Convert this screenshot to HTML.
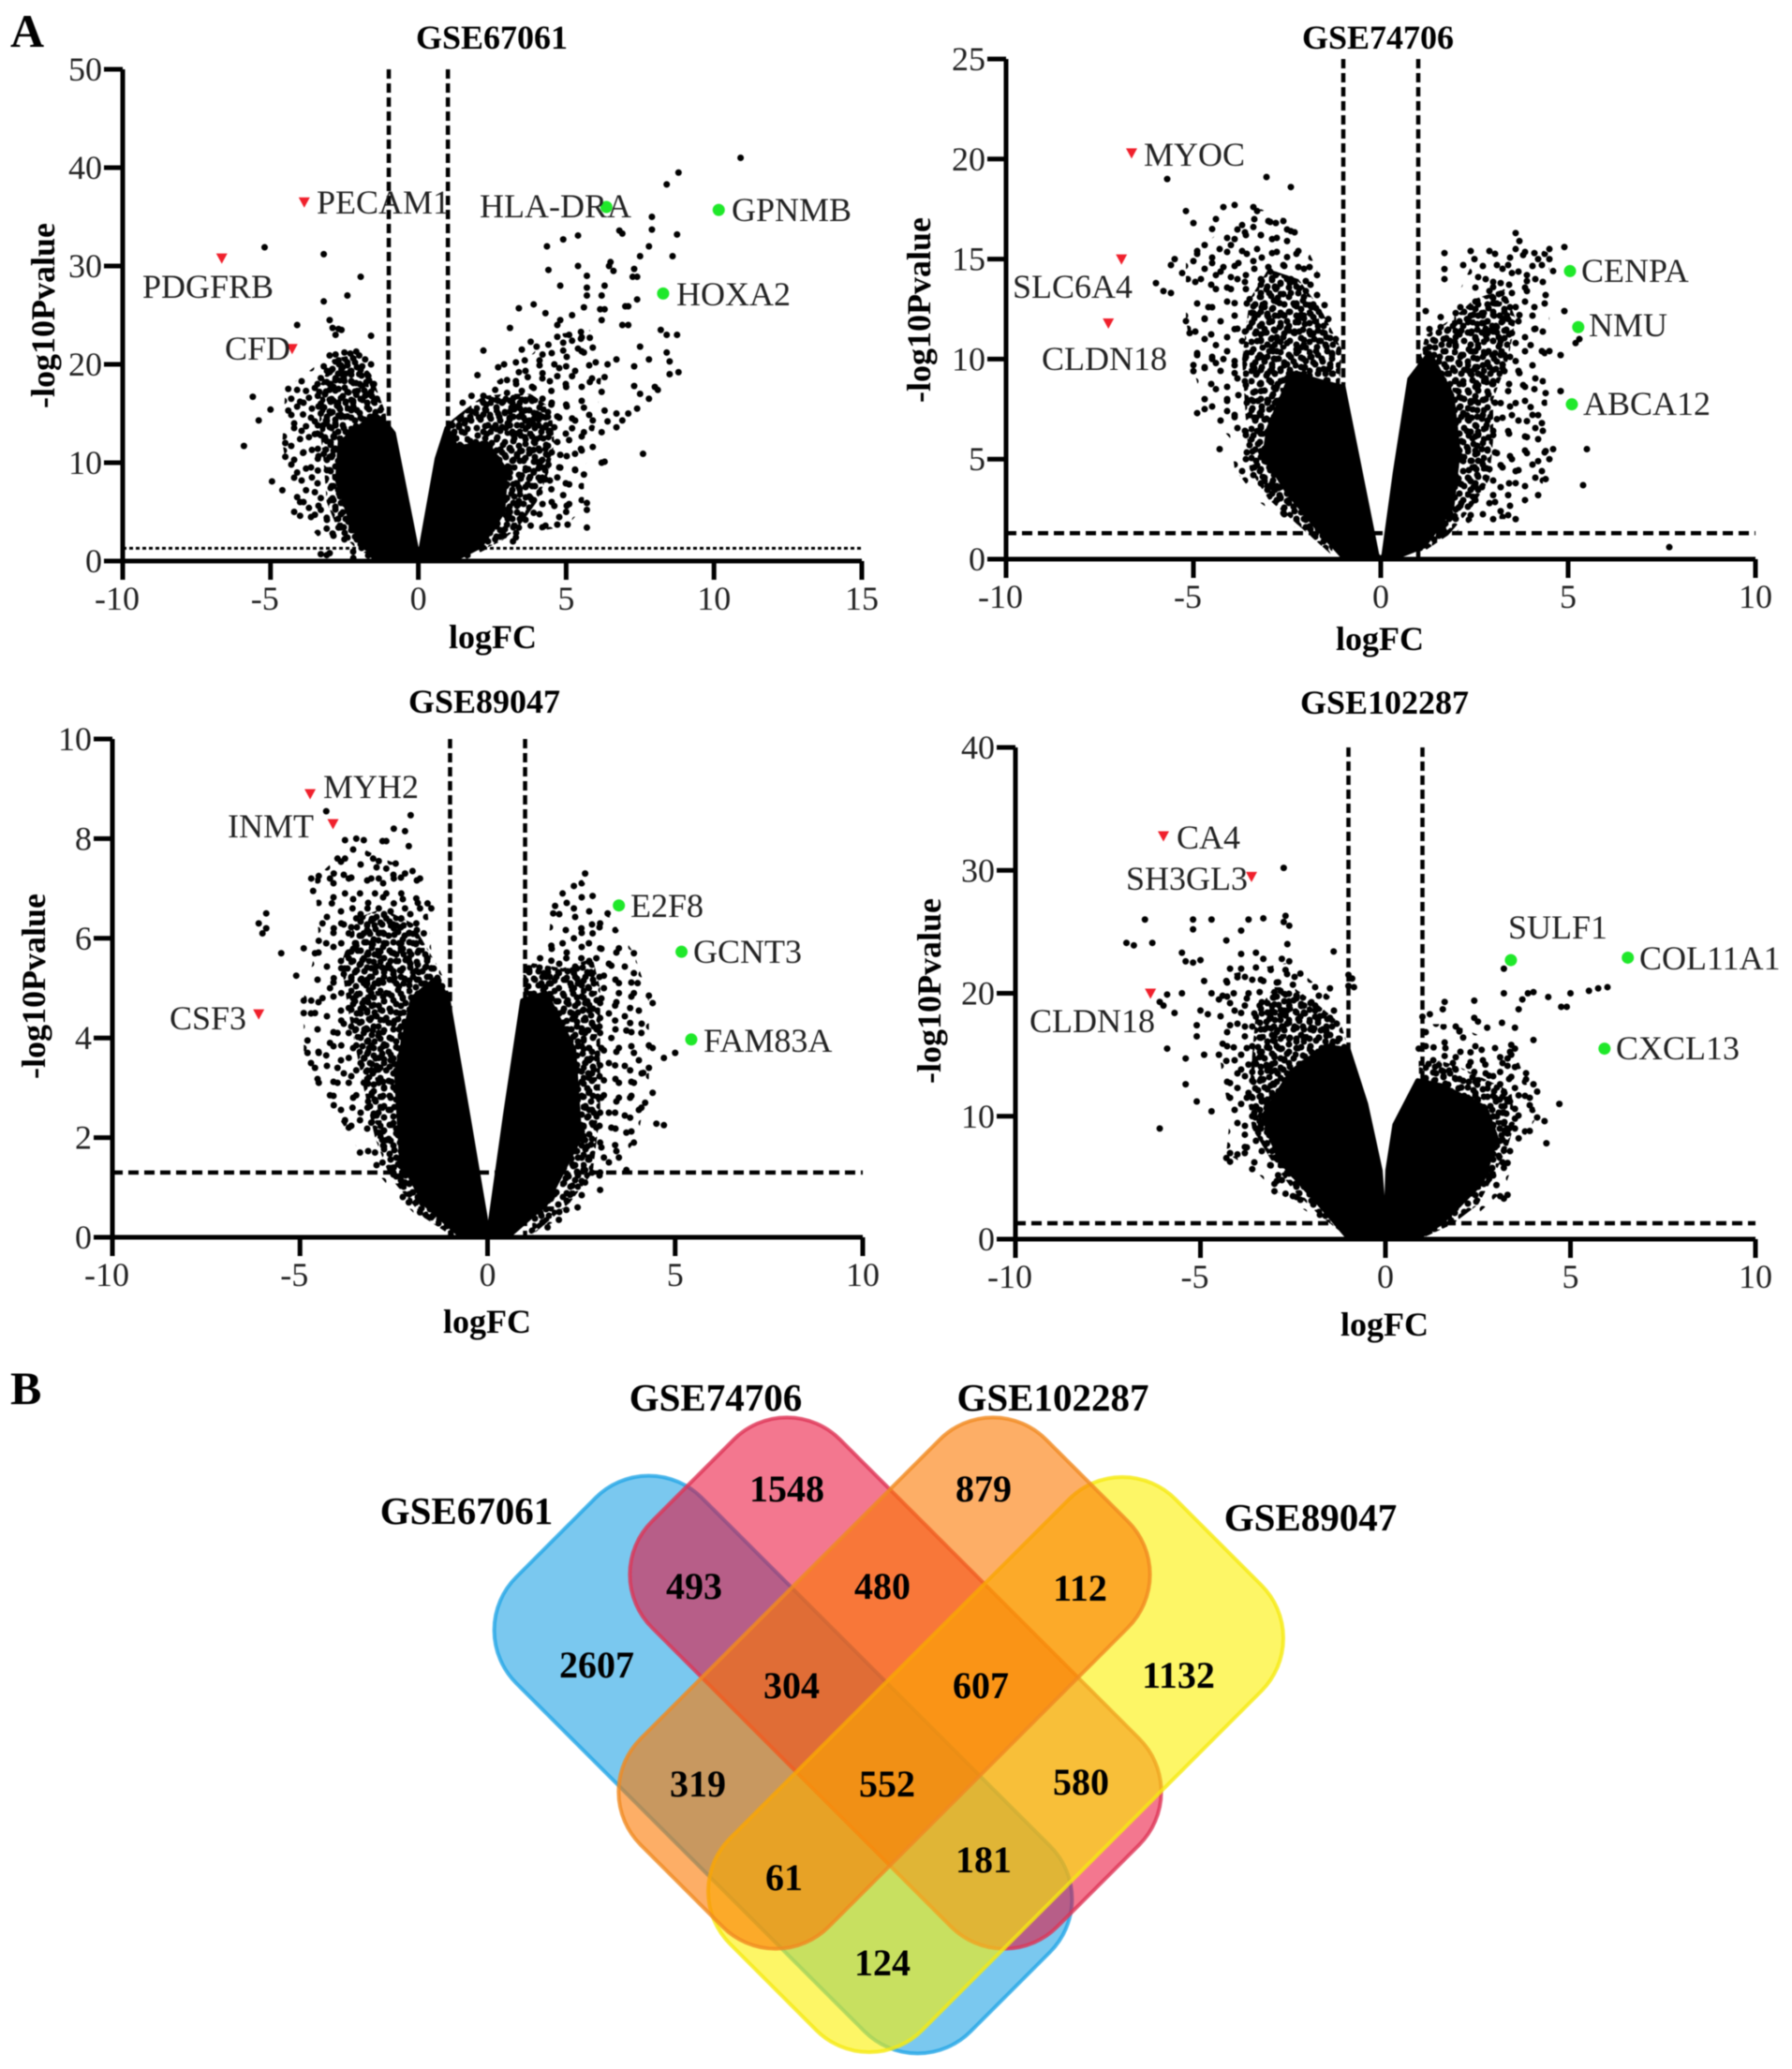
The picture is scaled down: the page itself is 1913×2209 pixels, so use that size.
<!DOCTYPE html>
<html><head><meta charset="utf-8"><title>Volcano plots and Venn diagram</title>
<style>
html,body{margin:0;padding:0;background:#fff}
svg{display:block;font-family:"Liberation Serif",serif;filter:blur(.6px)}
.t{font-weight:bold;font-size:36px;text-anchor:middle}
.g{font-size:36px;fill:#222}
.n{font-weight:bold;font-size:40px;text-anchor:middle;dominant-baseline:middle}
.v{font-weight:bold;font-size:41px;text-anchor:middle}
</style></head><body>
<svg id="fig" xmlns="http://www.w3.org/2000/svg" width="1913" height="2209" viewBox="0 0 1913 2209">
<defs>
<pattern id="stippleA" patternUnits="userSpaceOnUse" width="46" height="46">
<g fill="#000"><circle cx="4" cy="5" r="3.5"/><circle cx="14" cy="3" r="3.5"/><circle cx="25" cy="7" r="3.5"/><circle cx="36" cy="2" r="3.5"/><circle cx="42" cy="11" r="3.5"/><circle cx="9" cy="14" r="3.5"/><circle cx="19" cy="13" r="3.5"/><circle cx="31" cy="15" r="3.5"/><circle cx="40" cy="21" r="3.5"/><circle cx="3" cy="22" r="3.5"/><circle cx="13" cy="24" r="3.5"/><circle cx="24" cy="21" r="3.5"/><circle cx="33" cy="26" r="3.5"/><circle cx="42" cy="31" r="3.5"/><circle cx="7" cy="32" r="3.5"/><circle cx="18" cy="33" r="3.5"/><circle cx="27" cy="31" r="3.5"/><circle cx="36" cy="38" r="3.5"/><circle cx="12" cy="41" r="3.5"/><circle cx="23" cy="40" r="3.5"/><circle cx="30" cy="42" r="3.5"/></g>
</pattern>
<pattern id="stippleB" patternUnits="userSpaceOnUse" width="31" height="31">
<g fill="#000"><circle cx="3" cy="4" r="3.5"/><circle cx="12" cy="7" r="3.5"/><circle cx="22" cy="3" r="3.5"/><circle cx="27" cy="11" r="3.5"/><circle cx="7" cy="15" r="3.5"/><circle cx="17" cy="14" r="3.5"/><circle cx="25" cy="20" r="3.5"/><circle cx="3" cy="24" r="3.5"/><circle cx="13" cy="23" r="3.5"/><circle cx="20" cy="27" r="3.5"/><circle cx="28" cy="27" r="3.5"/></g>
</pattern>
<pattern id="stippleC" patternUnits="userSpaceOnUse" width="53" height="53">
<g fill="#000"><circle cx="6" cy="6" r="3.5"/><circle cx="22" cy="10" r="3.5"/><circle cx="38" cy="4" r="3.5"/><circle cx="14" cy="22" r="3.5"/><circle cx="31" cy="25" r="3.5"/><circle cx="46" cy="19" r="3.5"/><circle cx="4" cy="36" r="3.5"/><circle cx="21" cy="39" r="3.5"/><circle cx="38" cy="42" r="3.5"/><circle cx="49" cy="33" r="3.5"/></g>
</pattern>
</defs>
<rect width="1913" height="2209" fill="#fff"/>
<g id="plots"></g>
<text x="11" y="50" font-size="50" font-weight="bold">A</text>
<text x="11" y="1499" font-size="50" font-weight="bold">B</text>

<g>
<text class="g" x="338" y="228">PECAM1</text>
<text class="g" x="512" y="232">HLA-DRA</text>
<text class="g" x="781" y="236">GPNMB</text>
<text class="g" x="152" y="318">PDGFRB</text>
<text class="g" x="722" y="326">HOXA2</text>
<text class="g" x="240" y="384">CFD</text>
</g>
<g>
<text class="g" x="1221" y="177">MYOC</text>
<text class="g" x="1081" y="318">SLC6A4</text>
<text class="g" x="1112" y="395">CLDN18</text>
<text class="g" x="1688" y="301">CENPA</text>
<text class="g" x="1696" y="359">NMU</text>
<text class="g" x="1690" y="443">ABCA12</text>
</g>
<g>
<text class="g" x="345" y="852">MYH2</text>
<text class="g" x="243" y="894">INMT</text>
<text class="g" x="181" y="1099">CSF3</text>
<text class="g" x="673" y="979">E2F8</text>
<text class="g" x="740" y="1028">GCNT3</text>
<text class="g" x="751" y="1123">FAM83A</text>
</g>
<g>
<text class="g" x="1256" y="906">CA4</text>
<text class="g" x="1202" y="950">SH3GL3</text>
<text class="g" x="1099" y="1102">CLDN18</text>
<text class="g" x="1610" y="1002">SULF1</text>
<text class="g" x="1750" y="1035">COL11A1</text>
<text class="g" x="1725" y="1131">CXCL13</text>
</g>

<g>
<rect x="-343" y="-140" width="686" height="280" rx="80" transform="translate(836 1884) rotate(45)" fill="#0095e0" fill-opacity=".52" stroke="#22a5e6" stroke-opacity=".8" stroke-width="4"/>
<rect x="-306" y="-142" width="612" height="284" rx="80" transform="translate(956 1797) rotate(45)" fill="#ea0833" fill-opacity=".55" stroke="#dd3355" stroke-opacity=".8" stroke-width="4"/>
<rect x="-336" y="-145" width="672" height="290" rx="80" transform="translate(1063 1884) rotate(-45)" fill="#fcf000" fill-opacity=".6" stroke="#f5ea10" stroke-opacity=".8" stroke-width="4"/>
<rect x="-306" y="-142" width="612" height="284" rx="80" transform="translate(944 1797) rotate(-45)" fill="#fc7800" fill-opacity=".6" stroke="#f08a20" stroke-opacity=".8" stroke-width="4"/>
<text class="v" x="764" y="1506">GSE74706</text>
<text class="v" x="1124" y="1506">GSE102287</text>
<text class="v" x="498" y="1627">GSE67061</text>
<text class="v" x="1399" y="1634">GSE89047</text>
<text class="n" x="840" y="1594">1548</text>
<text class="n" x="1050" y="1594">879</text>
<text class="n" x="741" y="1698">493</text>
<text class="n" x="942" y="1698">480</text>
<text class="n" x="1153" y="1700">112</text>
<text class="n" x="637" y="1782">2607</text>
<text class="n" x="845" y="1804">304</text>
<text class="n" x="1047" y="1804">607</text>
<text class="n" x="1258" y="1793">1132</text>
<text class="n" x="745" y="1909">319</text>
<text class="n" x="947" y="1909">552</text>
<text class="n" x="1154" y="1907">580</text>
<text class="n" x="837" y="2009">61</text>
<text class="n" x="1050" y="1990">181</text>
<text class="n" x="942" y="2100">124</text>
</g>
</svg>
<script>
/* Values estimated by eye from the reference. Flat lists are logFC, -log10P pairs. */
const xTicksWide = [-10,-5,0,5,10,15];
const xTicksNarrow = [-10,-5,0,5,10];
const yTicks67061 = [0,10,20,30,40,50];
const yTicks74706 = [0,5,10,15,20,25];
const yTicks89047 = [0,2,4,6,8,10];
const yTicks102287 = [0,10,20,30,40];

/* Saturated core of each cloud: every point overlaps, drawn as a solid outline. */
const core67061Left = [0,0,-.08,1.5,-.84,13,-1.1,14,-1.48,14.9,-2,13.6,-2.65,12,-2.74,8.2,-2.2,3.4,-1.5,.3,-.7,0];
const core67061Right = [0,0,.1,1.5,.63,10.4,.96,13.5,1.3,11.5,2.3,12,2.96,9.2,2.86,5,2.1,1.5,1.25,.2];
const core74706Left = [0,0,-.1,.2,-.54,4.3,-1,8.6,-1.45,8.8,-2.37,9.3,-3,6.5,-3.1,5.2,-2.5,3.4,-1.76,1.7,-1,.1];
const core74706Right = [0,0,.08,.2,.38,4.3,.77,9,1.3,10.3,1.9,8.2,2.07,5.4,1.9,2.6,1.15,.65,.4,.1];
const core89047Left = [0,0,-.06,.4,-.52,2.44,-1.05,4.75,-1.36,5.2,-2,4.8,-2.43,3.3,-2.3,1.55,-1.67,.67,-.75,.05];
const core89047Right = [0,0,.09,.4,.47,2.44,.93,4.75,1.55,4.9,2.3,3.77,2.46,2,1.55,.67,.6,.05];
const core102287Left = [0,0,-.14,5.6,-.53,11,-1,15.4,-1.6,15.7,-2.55,13.6,-3.3,10,-2.85,6.4,-1.77,2.8,-1,.1];
const core102287Right = [0,0,.06,5.6,.25,9.3,.87,12.9,1.5,12.5,2.7,10.7,3,8.2,2.6,4.6,1.5,1.3,.87,.1];

/* Heavily overplotted zone around each core. */
const dense67061Left = [-1.1,15,-1.6,19,-2.2,21,-2.9,20.5,-3.3,18,-3.35,14,-3.2,10,-3.1,6,-2.7,3,-2,1,-.9,0];
const dense67061Right = [1,14,1.5,15.2,2.2,16.8,3,17,3.8,17,4.5,15.5,4.6,12,4.4,9,4,6,3.4,3.5,2.8,2,1.8,.7,.9,0];
const dense74706Left = [-1.05,10.5,-1.6,12.5,-2.2,14,-3,14.5,-3.5,13,-3.7,10,-3.6,7,-3.5,4.5,-3,3,-2.2,1.7,-1.3,.2];
const dense74706Right = [.95,9.5,1.2,11.2,1.9,12,2.5,13,3.3,13.5,3.6,12,3.4,10,3,8,3,6,2.9,4,2.4,2.5,1.8,1.2,1,.2];
const dense89047Left = [-1.05,5,-1.3,5.4,-2,6.3,-2.8,6.6,-3.5,6.4,-3.9,5.5,-3.7,4.5,-3.3,3,-3,2,-2.6,1.2,-1.7,.4,-.9,0];
const dense89047Right = [.95,5.3,1.2,5.5,2,5.4,2.8,5.6,3,5,3,3.8,3,2.5,2.8,1.3,2.2,.7,1.2,.05];
const dense102287Left = [-1,15.5,-1.2,17.5,-1.8,19,-2.5,20.5,-3,20.5,-3.5,18.5,-3.6,15,-3.7,11,-3.6,9,-3.1,6.5,-2.5,4,-1.8,2,-1,.1];
const dense102287Right = [.9,14.5,1.5,14.5,2,14,2.7,13,3.4,12,3.5,9.5,3.3,7.5,2.9,5,2.5,2.8,1.8,1.2,1,.1];

/* Thinner outer reach of each cloud. */
const sparse67061Left = [-1.5,8,-1.7,19,-2.5,21,-3.4,20,-4.5,17.5,-4.6,12,-4.3,7,-4,4.5,-3.4,2.5,-2.5,.8,-1.5,0];
const sparse67061Right = [1.5,0,2.5,18,3.5,20,4.5,23,5.8,23.5,6.2,19,6,14,5.6,9,5.6,5.5,5,3.5,3.5,2.8,2.5,1.5];
const sparse74706Left = [-1.5,5,-1.7,14.5,-2.3,16.8,-3.2,17.5,-4.2,16.5,-5.2,15,-5.2,12,-5,9.5,-4.7,7.5,-4,6,-3.9,4.5,-3.2,2.8,-2.3,1.6];
const sparse74706Right = [1.5,.7,2,13,2.5,15,3.6,16,4.5,15.3,4.5,12,4.4,9,4.5,6,4.3,3.5,3.4,2,2.5,2];
const sparse89047Left = [-1.4,5,-1.7,7.3,-2.8,7.6,-3.6,7.9,-4.6,7.2,-4.5,6,-4.9,4.8,-4.9,3.5,-4.4,2.9,-3.8,2.2,-3.4,1.7,-2.5,.9,-1.6,.2];
const sparse89047Right = [1,0,1.7,6.6,2.5,7.2,3.2,6.5,3.9,5.7,4.3,4.8,4.3,3.2,4,2,3.5,1.5,3,1,2,.4];
const sparse102287Left = [-1.2,19,-2.6,22.5,-3.5,22,-4.3,21.5,-4.6,18,-4.4,13,-4.2,10,-4.3,7,-3.5,5.5,-3,4,-2,2,-1.2,.1];
const sparse102287Right = [1,17.5,1.8,17.5,2.6,16.5,3.4,16,3.9,12,4.1,10,3.6,7.5,3.2,4,2.4,1.8,1,10];

/* Individually legible points. */
const points67061 = [-5.2,31.9,-3.2,31.2,-1.95,28.9,-2.4,27,-3.2,26.4,-4.1,24,-3,24.5,-2.9,23.7,-2.7,23.6,-2.8,23,-2.6,23.5,-1.6,22.9,-5.6,16.7,-5,15.4,-5.4,14.3,-5.9,11.7,-4.95,8.1,-4.6,7.2,-4.4,17.5,-4.1,17.4,-3.8,17.3,-3.5,17.6,-4.3,16.5,-4,16.2,-3.7,16.6,-3.4,16.8,-4.4,15.3,-4.1,15.7,-3.9,14.9,-3.6,15.5,-4.2,14,-3.8,13.7,-3.5,14.2,-4.5,12,-4.3,11.7,-4,12.4,-3.7,12.6,-3.5,12.9,-4.5,10.6,-4.2,10.3,-3.9,11,-3.6,11.3,-3.4,10.4,-4.1,9,-3.8,9.4,-3.6,8.5,-3.4,9.2,-4.1,6.5,-4,6,-3.8,7.2,-3.5,7,-3.3,6.4,-4.2,5,-4,4.6,-3.7,5.4,-3.5,4.7,-3.3,5.2,-3.1,4.4,-3.1,3.3,-2.9,2.8,-2.7,3.4,-2.5,2.2,-3.3,.7,-3.1,.6,-3,.8,-2.2,.3,-2.8,21,-2.5,21.2,-2.3,21.1,-2.1,21.3,-2,20.9,-1.8,20.5,-1.6,20,-3,20.9,-2.7,20.4,-2.4,20.2,-2.2,20.6,-1.9,19.8,-3.2,19.8,-3,19.2,-2.6,19.5,-2.3,19.3,-2,19,-1.7,18.8,-1.5,18,-3.3,18.6,-3.1,18.2,-2.8,18.6,-2.5,18.3,-2.2,18.1,-1.9,17.8,-1.6,17.2,-3.35,17.2,-3,17.4,-2.7,17.5,-2.4,17.2,-2.1,16.9,-1.8,16.8,-1.4,16.5,-3.3,16,-3,16.4,-2.75,15.8,-2.45,16.2,-2.2,15.7,-3.3,15,-3,15.2,-2.7,14.8,-2.4,14.7,-3.4,13.8,-3.1,14,-2.8,13.8,-3.3,12.8,-3.1,12.2,-2.85,12.6,-3.4,11.4,-3.2,10.9,-3,10.6,-1.1,13.7,-.95,12.9,-1,11.8,-.8,11,-.7,9.5,
10.9,41,8.8,39.5,8.4,38.3,7.9,35,7.9,33.7,8.75,33.2,6.8,33.6,6.9,33.3,5.4,33.1,4.9,32.7,4.35,32,7.8,32,7.5,31,8.6,31,6.5,30.4,6.45,30,6.6,29.5,5.4,30,7.3,29.7,7.25,28.9,7.4,28.9,5.7,29,4.4,29.6,4.8,28,5.7,27.8,6.3,28,6.2,27,5.7,27,7.4,26.6,7,25.9,7.1,25.9,6.15,25.6,6.3,25.6,3.4,25.7,3.9,26.1,4.3,25.2,4.8,24.5,4.7,24,5.2,25,5.6,25.8,6.2,24.5,3.1,23.7,6.9,24,7.1,24,8.2,23.5,8.4,23,8.75,23,5.5,23.3,5.1,23,4.7,22.8,4.9,22.2,5.2,22.4,5.5,22.6,5.8,22.7,5.4,21.6,4.9,21.4,5.6,21.2,5.9,21.7,4.4,22,3.8,22.3,4,21.8,3.5,21.5,4.2,21,4.1,20.4,3.6,20.4,4.6,20,5,19.8,6,20.2,6.4,20,7.3,19.8,7.8,20.5,8.4,21.2,8.5,20.3,7.5,21.8,8.8,19.2,8.5,19,6.7,20.5,2.2,21.4,2.9,20,3.3,20.2,2.7,19.7,2,18.9,3,18.4,3.3,18.3,3.7,18.7,3.4,19.2,4.2,19.1,4.7,18.8,5.2,18.8,5.8,18.2,6.3,18.7,6.2,17.2,5,17.7,4.5,17.3,3.9,17.6,3.5,17.3,3,17.1,2.6,17.4,2.2,16.8,1.8,16.8,1.5,16.1,2.3,15.9,2.7,16.3,3.1,16.3,3.5,16.4,3.8,16.6,4.2,16.5,4.5,15.9,5,15.9,5.6,15.6,6.3,15.3,6.7,15,6.9,14.3,7.1,15,7.4,15.5,7.8,16.5,8.1,17.4,7.5,17,8,17.7,7.3,17.8,1.8,15.2,2.2,14.9,2.7,15,3.1,15.2,3.5,15,4,15,4.3,14.6,4.7,14.7,5.2,14.5,5.9,14.3,6.4,14.2,6.7,13.6,6.2,13.1,6.2,10,6.3,10.1,7.6,10.9,3.1,13.8,3.5,13.8,3.9,13.9,4.3,13.6,4.6,13.6,5.2,13.5,5.6,13.1,3.2,12.9,3.6,12.6,4,12.4,4.4,12.6,4.7,12.1,5.1,12.3,5.5,11.4,5.9,11.6,3.1,11.5,3.5,11.2,3.9,11.3,4.3,11.4,4.8,10.8,5.3,10.9,3.2,10.2,3.6,10.4,4,10.1,4.4,9.8,4.8,9.5,5.3,9.3,5.6,8.8,3.1,9,3.5,8.7,3.9,9,4.3,8.3,4.7,8.5,5.1,7.8,3,7.8,3.4,7.5,3.7,7.8,4.1,7,4.5,7.3,4.9,6.7,3,6.4,3.4,6.1,3.8,6.4,4.2,5.8,4.6,5.6,5.1,5.8,5.7,5.9,5.7,5.2,5,5,3.1,5,3.5,4.7,3.9,4.9,4.3,3.6,4.7,3.7,5.05,3.7,5.7,3.4,3,3.7,3.4,3.4,3.8,3.6,2.9,2.6,3.3,2.4,2.6,2.2,3.2,2,1.1,13.9,1.4,14.4,1.2,13,1.6,14.3,2.05,14.6,.95,12.2,.85,11,.7,9.5];
const points74706 = [-5.7,19,-3.05,19.1,-2.4,18.6,-4.2,17.6,-3.9,17.7,-3.4,17.6,-3.3,17.4,-5.2,17.4,-5,16.8,-4.4,17,-4.5,16.5,-3.7,16.7,-3.4,16.6,-3,16.9,-2.8,16.8,-2.6,16.9,-2.4,16.4,-3.9,16,-3.6,16.2,-3.2,16.2,-2.9,16,-2.5,15.9,-4.9,15.4,-4.7,15.7,-4.3,15.5,-4,15.7,-3.7,15.4,-3.3,15.5,-2.9,15.3,-2.5,15.1,-2.2,15.4,-5.5,15,-5.6,14.7,-5,14.9,-4.5,14.8,-4.2,14.6,-3.8,14.8,-3.4,14.9,-3,14.6,-2.6,14.7,-2.2,14.6,-1.9,14.6,-5.3,14.3,-4.8,14,-4.4,14.2,-4,14.1,-3.6,14.2,-3.2,14,-2.8,14.2,-2.4,14,-2,13.9,-1.7,14.2,-6,13.8,-5.6,13.3,-5.8,13.4,-4.4,13.5,-4,13.5,-3.6,13.5,-3.2,13.3,-2.8,13.5,-2.4,13.3,-2,13.4,-1.7,13.2,-3.9,12.8,-3.5,13,-3.1,12.6,-2.7,12.8,-2.3,12.7,-1.9,12.7,-1.5,12.7,-4.6,12.6,-3.4,12.3,-3,12.1,-2.6,12.2,-2.2,12,-1.8,12.1,-1.4,12,-5.2,11.9,-4.7,12,-5.1,11.3,-4.7,11,-3.9,11.5,-3.5,11.6,-3.1,11.5,-2.7,11.6,-2.3,11.3,-1.9,11.4,-1.5,11.3,-1.2,11,-4.4,10.7,-3.7,10.9,-3.3,10.9,-2.9,10.6,-2.5,10.8,-2.1,10.6,-1.7,10.6,-1.3,10.3,-4.9,10.2,-4.5,10,-4.2,10,-3.9,9.9,-3.6,10.1,-3.2,10.1,-2.8,10,-2.4,10.1,-2,9.9,-1.4,9.5,-5,9.7,-5,9.4,-4.7,9.6,-4.4,9.8,-3.9,9.3,-3.3,9.3,-2.9,9.4,-1.2,8.6,-4.4,8.5,-3.6,8.7,-3.2,8.4,-2.8,8.5,-4.7,8,-4.1,8,-3.8,8.2,-3.4,7.9,-3,7.9,-4.9,7.3,-4.7,7.5,-4.1,7.4,-3.9,7.1,-3.5,7.2,-3.2,7.2,-3.6,6.2,-3.3,6.4,-3.5,5.7,-3.2,5.4,-4.3,5.5,-3.6,5,-3.3,4.7,-3.1,4.9,-3.7,4.4,-3.4,4.2,-3.1,3.9,-2.9,3.6,-2.7,3.2,-2.5,2.9,-2.6,2.3,-2.3,2.4,-2,1.6,
3.6,16.3,3.7,15.9,3.6,15.5,3.8,15.2,4.1,15.3,4.5,15,4.9,15.6,4.5,15.5,4.2,15,1.7,15.3,2.4,15.4,2.9,15.4,3.4,14.7,3.1,14.7,2.2,14.7,2.5,15,1.7,14.5,1.7,14,2.6,14.1,3.5,14.3,3.9,14.2,4.3,14.7,4.6,14.4,3.9,13.9,3.2,13.8,3,13.6,2.9,13.4,3.5,13.3,3.9,13.4,4.4,13.2,3,12.8,3.3,13,3.6,12.6,4.1,12.6,2.4,12.6,2.7,12.3,3,12.2,3.4,12,3.7,12.2,4.9,12.4,1.2,12.4,1.6,12.1,2,12.3,2.3,12,2.7,11.8,3.1,11.6,3.5,11.3,4.1,11.5,5.3,11,5.2,10.8,1.3,11.5,1.6,11.6,2,11.4,2.4,11.3,2.8,11.2,3.2,10.9,3.6,10.8,4,10.7,4.3,10.4,4.5,10.4,4.8,10.2,1.3,10.6,2,10.7,2.4,10.4,2.8,10.3,3.2,10.2,3.6,9.9,2.1,9.8,2.5,9.5,2.9,9.6,3.3,9.4,3.7,9.3,2.2,8.9,2.6,8.7,3,8.8,3.4,8.4,3.8,8.7,4.1,8.5,4.4,8.3,4.8,8.4,2.1,8.1,2.4,7.9,2.8,8,3.2,7.8,3.6,7.8,4,7.6,4.2,7.2,2.3,7.2,2.7,7.1,3.1,7,3.5,7.2,3.9,6.9,4.3,6.8,2.3,6.4,2.6,6.2,3,6.2,3.4,6.4,3.9,6.1,4.2,6,4.4,5.4,4.6,5.5,5.5,5.5,2.3,5.6,2.7,5.5,3.1,5.3,3.5,5,3.9,5.3,4.2,4.9,4.5,5,4.3,4.4,2.2,4.9,2.5,4.6,2.9,4.5,3.2,4.7,3.6,4.4,4.4,4,4.2,3.2,3.6,3.8,3.2,3.6,3.4,3.2,2.4,3.9,2.7,3.6,3,3.2,2.5,3,2.9,2.8,3.2,2.4,3.4,2.2,3,2,3.6,2,2.4,2.2,7.7,.6,5.4,3.7,4.8,8.4];
const points89047 = [-4.3,8.55,-2.05,8.47,-2.5,8.2,-2.2,8.15,-2.1,7.85,-3.8,7.97,-3.5,8,-3.3,7.97,-2.8,7.95,-2.7,7.95,-4,7.6,-3.8,7.6,-3.05,7.6,-2.9,7.55,-2.7,7.4,-2.45,7.5,-2.2,7.3,-2,7.35,-1.8,7.2,-4.7,7.2,-4.5,7.25,-4.2,7.2,-4.1,7.3,-3.7,7.2,-3.1,7.2,-2.9,7.2,-2.5,7.2,-4.65,6.95,-3.8,6.9,-3.4,6.9,-3,6.9,-2.7,6.9,-2.3,6.9,-1.9,6.8,-1.6,6.7,-4.15,6.7,-3.6,6.6,-3.2,6.6,-2.9,6.6,-2.5,6.7,-2.2,6.6,-1.8,6.6,-1.5,6.6,-5.9,6.5,-6.1,6.3,-6,6.1,-5.9,6.2,-3.9,6.3,-3.5,6.4,-3.1,6.35,-2.7,6.4,-2.3,6.4,-1.9,6.3,-4.4,6.3,-4.1,6.2,-3.7,6.1,-3.3,6.1,-2.9,6.1,-2.5,6.2,-2.1,6.1,-1.7,6.1,-4.5,5.95,-4.3,5.9,-3.9,5.9,-3.5,5.85,-3.1,5.9,-2.7,5.9,-2.3,5.9,-1.9,5.9,-5.5,5.7,-4.9,5.8,-4.6,5.7,-3.7,5.6,-3.3,5.6,-2.9,5.65,-2.5,5.7,-2.1,5.6,-1.6,5.6,-3.9,5.4,-3.5,5.35,-3.1,5.4,-2.7,5.4,-2.3,5.35,-1.9,5.35,-1.5,5.4,-5.1,5.25,-4.1,5.2,-3.7,5.1,-3.3,5.1,-2.9,5.15,-2.5,5.15,-4.2,5,-3.9,4.9,-3.5,4.85,-3.1,4.9,-2.7,4.9,-4.9,4.75,-4.7,4.75,-4.4,4.8,-3.7,4.6,-3.3,4.6,-2.9,4.65,-4.9,4.5,-4.6,4.5,-3.9,4.35,-3.5,4.35,-3.1,4.4,-2.7,4.4,-4,4.1,-3.7,4.1,-3.3,4.1,-2.9,4.1,-4.8,3.95,-4.2,3.9,-3.9,3.85,-3.5,3.85,-3.1,3.85,-2.7,3.85,-4.8,3.7,-4.5,3.7,-4.3,3.65,-3.7,3.6,-3.3,3.6,-2.9,3.6,-4.6,3.4,-4,3.4,-3.5,3.35,-3.1,3.35,-2.7,3.35,-4.5,3.1,-4,3.1,-3.7,3.1,-3.3,3.1,-2.9,3.1,-4.2,2.85,-3.5,2.85,-3.1,2.85,-4.1,2.65,-3.6,2.6,-3.2,2.6,-2.8,2.6,-3.8,2.35,-3.4,2.35,-3.1,2.3,-3.7,2.2,-2.9,2.1,-2.7,1.95,-3.4,1.7,-3,1.7,-2.8,1.5,-2.5,1.4,-2.2,1.1,-2,.9,-2.1,.7,-1.8,.5,-1.5,.4,
2.6,7.3,2.3,7.05,2,6.9,2.8,6.85,1.8,6.65,2.3,6.6,1.75,6.5,3.2,6.5,3,6.3,2.5,6.2,2.8,6.1,2.3,6,2,5.9,1.7,5.85,2.7,5.9,3,5.8,3.5,5.8,3.9,5.7,1.4,5.6,1.7,5.55,2.1,5.6,2.5,5.6,2.9,5.6,3.3,5.45,1.1,5.4,1.5,5.3,1.9,5.3,2.3,5.3,2.7,5.3,3.1,5.25,3.9,5.3,4,5.1,3.5,5.1,3.9,4.9,1.5,5,1.9,5,2.3,5,2.7,5,3.1,5,3.5,4.9,4.3,4.85,4.4,4.7,2.6,4.7,3,4.7,3.4,4.65,3.8,4.6,2.6,4.4,3,4.4,3.4,4.35,3.8,4.3,2.6,4.1,3,4.1,3.3,4,3.7,4.15,4.1,4.1,4.3,3.85,4.4,3.8,2.7,3.8,3.1,3.75,3.5,3.8,3.9,3.7,4.7,3.6,5,3.7,2.6,3.5,3,3.45,3.4,3.45,3.8,3.35,4.3,3.4,4.15,3.3,2.7,3.2,3.1,3.15,3.5,3.1,3.9,3.1,4.4,2.9,4.2,2.7,2.7,2.9,3.1,2.85,3.5,2.8,3.8,2.8,4.1,2.6,2.6,2.6,3,2.5,3.4,2.5,3.8,2.4,2.5,2.25,2.9,2.2,3.3,2.2,3.7,2.1,4.5,2.28,4.7,2.25,2.6,1.95,3,1.9,3.4,1.85,3.9,1.9,2.7,1.6,3.1,1.6,3.5,1.6,2.6,1.35,3,1.3,3.7,1.35,2.6,1.1,3,.95,2.2,.85,2.4,.6,2.1,.55,1.9,.35,1.6,.2];
const points102287 = [-2.75,30.2,-6.5,26,-5.2,26,-4.7,26,-3.7,26,-3.3,26.1,-2.7,26.3,-2.75,25.8,-2.6,25.5,-5.2,25.2,-3.9,25.1,-7,24.1,-6.8,23.9,-6.3,24.1,-4.3,24.3,-2.65,24,-5.5,23.3,-5.4,22.6,-5.2,22.5,-5,22.7,-3.9,23.2,-3.5,23.3,-3.3,22.8,-2.8,22.8,-2.6,22.6,-1.4,23.4,-4.2,22,-3.9,22,-3.5,22.1,-3.1,21.9,-2.7,21.9,-2.3,21.6,-1,21.5,-.9,21.2,-4.9,21,-4.3,21,-4,21.3,-3.6,21.1,-3.3,21,-2.9,20.9,-2.5,20.7,-1.9,20.5,-1.5,20.4,-1,20.6,-.85,20.5,-5.9,19.9,-5.5,20,-4.7,20,-4.4,19.8,-4.1,20,-3.7,20,-3.4,20.1,-3,20.1,-2.7,19.9,-2.4,19.8,-1.8,19.8,-6.1,19.3,-6,19,-4.5,19.5,-4.2,19.2,-3.8,19,-3.4,19,-3,19.1,-2.6,19,-2.2,19,-1.9,19,-5.7,18.4,-5,18.6,-4.8,18.3,-3.9,18.4,-3.5,18.1,-3.1,18,-2.7,18.2,-2.3,18.1,-1.9,18.1,-1.5,18,-5.1,17.4,-4.2,17.4,-3.6,17.3,-3.2,17.2,-2.8,17.3,-2.4,17.2,-2,17.2,-1.6,17,-5.1,16.5,-3.8,16.5,-3.4,16.4,-3,16.5,-2.6,16.3,-2.2,16.3,-1.8,16.4,-1.3,16.1,-4.4,15.9,-4.1,15.6,-3.6,15.7,-3.2,15.6,-2.8,15.5,-5.9,15.5,-5.4,14.7,-4.9,15,-4.5,15,-3.9,15,-3.4,14.8,-3,14.8,-3.7,14.2,-4.3,14.5,-3.2,14,-3.6,13.6,-3.9,13.8,-5.4,12.6,-4.2,12.7,-4,12.3,-3.6,12.9,-3.3,13,-3.1,12.5,-4.2,11.5,-3.7,11.9,-3.4,11.6,-5.1,11.2,-3.9,11,-3.5,10.8,-3.2,11,-4.7,10.4,-3.6,10,-3.4,9.6,-3.1,9.8,-6.1,9,-3.5,9,-3.2,8.7,-3.8,8.5,-3.5,8,-3.2,7.8,-3.8,7.5,-3,7.3,-4.2,7,-4,6.9,-3.8,7,-4.3,6.6,-4.2,6.3,-3.6,5.7,-3.1,6,-2.9,5.2,-3,4.5,-2.8,4.8,-3,3.9,-2.7,3.7,-2.5,3.5,-2.3,3.2,
6,20.5,5.75,20.4,5.5,20.2,5,20,4.9,18.9,4.75,18.9,4.4,19.7,4,20.1,3.85,20,3.7,19.5,3.6,18.7,3.2,20,3.2,22,3.15,17.6,2.4,19.4,1.6,19.3,1.55,18.7,1.2,18.3,1,18.1,2.4,18,2.5,17.7,2.75,17.2,1.9,17.3,2,16.9,2.1,16.4,3.5,17.2,3.4,15.8,3.5,15.5,3.4,15,3.3,14.7,4,16.2,1.6,16,1.3,15.6,.9,15.5,2.3,15.2,2.6,15.4,3.1,14.8,1.6,14.9,1.9,14.8,2.3,14.4,2.7,14.2,3.3,14.1,3.5,14,3.1,13.6,3.8,13.5,2.4,13.6,2.8,13.3,3.4,13.2,3.8,13,4,12.6,3.1,12.6,3.5,12.3,3.2,12,3.6,11.7,3.9,11.5,4.1,12,3.3,11.2,3.5,10.6,3.9,10.9,4.7,11,3.2,10.3,3.5,9.8,4.1,9.9,4.3,9.6,3.2,9.4,3.5,9,3.9,8.8,3.3,8.6,3.6,8.2,4.35,7.8,3.1,8,3.2,7.2,3.3,6.2,3.2,5.8,2.9,5.3,2.8,4.9,3,4.4,3.3,3.6,3.1,3.5,3.2,3.3];

const downGenes67061 = [-3.86,36.5,-6.65,30.8,-4.27,21.6];
const upGenes67061 = [6.36,36,10.16,35.7,8.28,27.2];
const downGenes74706 = [-6.65,20.3,-6.92,15,-7.27,11.8];
const upGenes74706 = [5.05,14.4,5.27,11.6,5.1,7.74];
const downGenes89047 = [-4.73,8.9,-4.12,8.3,-6.1,4.48];
const upGenes89047 = [3.5,6.66,5.17,5.73,5.43,3.97];
const downGenes102287 = [-6,32.8,-3.62,29.5,-6.35,20];
const upGenes102287 = [3.39,22.7,6.55,22.9,5.92,15.5];

const NS = 'http://www.w3.org/2000/svg';
const root = document.getElementById('plots');
function add(parent, tag, attrs, text){
  const el = document.createElementNS(NS, tag);
  for (const k in attrs) el.setAttribute(k, attrs[k]);
  if (text !== undefined) el.textContent = text;
  parent.appendChild(el);
  return el;
}
function panel(o){
  const sx = v => o.x0 + (v - o.xd[0]) / (o.xd[1] - o.xd[0]) * (o.x1 - o.x0);
  const sy = v => o.y0 - (v - o.yd[0]) / (o.yd[1] - o.yd[0]) * (o.y0 - o.y1);
  const outline = c => {
    const pts = [];
    for (let i = 0; i < c.length; i += 2) pts.push(sx(c[i]) + ',' + sy(c[i + 1]));
    return pts.join(' ');
  };
  const g = add(root, 'g', {});
  
  
  const thr = {stroke:'#000', fill:'none'};
  const v1 = add(g, 'line', Object.assign({x1:sx(-1), x2:sx(-1), y1:o.y1, y2:o.y0, 'stroke-width':4.5, 'stroke-dasharray':'10 5'}, thr));
  
  
  const v2 = add(g, 'line', Object.assign({x1:sx(1), x2:sx(1), y1:o.y1, y2:o.y0, 'stroke-width':4.5, 'stroke-dasharray':'10 5'}, thr));
  
  
  const h = add(g, 'line', Object.assign({x1:o.x0, x2:o.x1, y1:sy(1.3), y2:sy(1.3), 'stroke-width':o.hw, 'stroke-dasharray':o.hd}, thr));
  
  
  [o.sparseL, o.sparseR].forEach(c => {
    const s = add(g, 'polygon', {points:outline(c), fill:'url(#stippleC)'});
    
    
  });
  [o.denseL, o.denseR].forEach(c => {
    const a = add(g, 'polygon', {points:outline(c), fill:'url(#stippleA)'});
    
    
    const b = add(g, 'polygon', {points:outline(c), fill:'url(#stippleB)'});
    
    
  });
  [o.coreL, o.coreR].forEach(c => {
    const poly = add(g, 'polygon', {points:outline(c), fill:'#000', stroke:'#000', 'stroke-width':5, 'stroke-linejoin':'round'});
    
    
  });
  for (let i = 0; i < o.pts.length; i += 2) {
    const d = add(g, 'circle', {cx:sx(o.pts[i]), cy:sy(o.pts[i + 1]), r:3.5, fill:'#000'});
    
    
  }
  for (let i = 0; i < o.down.length; i += 2) {
    const cx = sx(o.down[i]), cy = sy(o.down[i + 1]);
    const tri = add(g, 'polygon', {points:[cx - 6, cy - 5, cx + 6, cy - 5, cx, cy + 6].join(' '), fill:'#f0202c'});
    
    
  }
  for (let i = 0; i < o.up.length; i += 2) {
    const c = add(g, 'circle', {cx:sx(o.up[i]), cy:sy(o.up[i + 1]), r:6.5, fill:'#1fe82a'});
    
    
  }
  const ax = add(g, 'path', {d:'M' + o.x0 + ' ' + o.y1 + 'V' + o.y0 + 'H' + o.x1, fill:'none', stroke:'#000', 'stroke-width':5});
  
  
  o.xt.forEach(t => {
    const tk = add(g, 'line', {x1:sx(t), x2:sx(t), y1:o.y0, y2:o.y0 + 20, stroke:'#000', 'stroke-width':5});
    
    
    const lb = add(g, 'text', {x:sx(t) - (t < 0 ? 6 : 0), y:o.y0 + 52, 'font-size':36, 'text-anchor':'middle', fill:'#222'}, String(t));
    
    
  });
  o.yt.forEach(t => {
    const tk = add(g, 'line', {x1:o.x0 - 20, x2:o.x0, y1:sy(t), y2:sy(t), stroke:'#000', 'stroke-width':5});
    
    
    const lb = add(g, 'text', {x:o.x0 - 22, y:sy(t) + 12, 'font-size':36, 'text-anchor':'end', fill:'#222'}, String(t));
    
    
  });
  const ti = add(g, 'text', {x:o.tx, y:o.ty, class:'t'}, o.id);
  
  
  const xl = add(g, 'text', {x:o.xlx, y:o.xly, class:'t'}, 'logFC');
  
  
  const yl = add(g, 'text', {x:0, y:0, class:'t', transform:'translate(' + o.ylx + ' ' + o.yly + ') rotate(-90)'}, '-log10Pvalue');
  
  
}
panel({id:'GSE67061', x0:131, x1:920, y0:599, y1:74, xd:[-10,15], yd:[0,50], xt:xTicksWide, yt:yTicks67061, coreL:core67061Left, coreR:core67061Right, denseL:dense67061Left, denseR:dense67061Right, sparseL:sparse67061Left, sparseR:sparse67061Right, pts:points67061, down:downGenes67061, up:upGenes67061, hw:3, hd:'4 3', tx:525, ty:52, xlx:526, xly:692, ylx:58, yly:337});
panel({id:'GSE74706', x0:1074, x1:1874, y0:597, y1:63, xd:[-10,10], yd:[0,25], xt:xTicksNarrow, yt:yTicks74706, coreL:core74706Left, coreR:core74706Right, denseL:dense74706Left, denseR:dense74706Right, sparseL:sparse74706Left, sparseR:sparse74706Right, pts:points74706, down:downGenes74706, up:upGenes74706, hw:4.5, hd:'11 6', tx:1471, ty:52, xlx:1473, xly:694, ylx:993, yly:331});
panel({id:'GSE89047', x0:120, x1:921, y0:1321, y1:789, xd:[-10,10], yd:[0,10], xt:xTicksNarrow, yt:yTicks89047, coreL:core89047Left, coreR:core89047Right, denseL:dense89047Left, denseR:dense89047Right, sparseL:sparse89047Left, sparseR:sparse89047Right, pts:points89047, down:downGenes89047, up:upGenes89047, hw:4.5, hd:'11 6', tx:517, ty:761, xlx:520, xly:1423, ylx:48, yly:1053});
panel({id:'GSE102287', x0:1084, x1:1874, y0:1323, y1:798, xd:[-10,10], yd:[0,40], xt:xTicksNarrow, yt:yTicks102287, coreL:core102287Left, coreR:core102287Right, denseL:dense102287Left, denseR:dense102287Right, sparseL:sparse102287Left, sparseR:sparse102287Right, pts:points102287, down:downGenes102287, up:upGenes102287, hw:4.5, hd:'11 6', tx:1478, ty:762, xlx:1478, xly:1426, ylx:1004, yly:1058});
</script>
</body></html>
